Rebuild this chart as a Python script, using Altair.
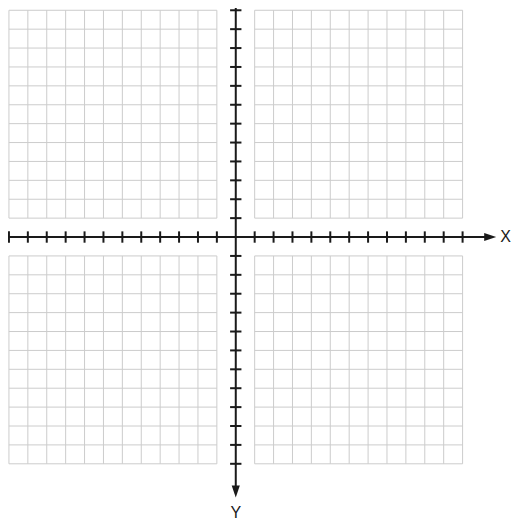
import altair as alt
import pandas as pd

# ---- data ----
grid_units = list(range(1, 13))                      # grid lines in each quadrant
tick_units = [v for v in range(-12, 13) if v != 0]   # axis tick positions
quadrant_signs = [(-1, 1), (1, 1), (-1, -1), (1, -1)]
x_domain = [-12.05, 14.72]
y_domain = [-15.08, 12.12]
axis_end = 13.76          # where axis lines stop (arrow tip)
arrow_center = 13.46      # arrow head centre
x_label = ["X"]
x_label_pos = 14.28
y_label = ["Y"]
y_label_pos = -14.6
tick_half = 0.3

# ---- tables ----
vgrid = pd.DataFrame([
    {"x": sx * v, "y": sy * grid_units[0], "y2": sy * grid_units[-1]}
    for sx, sy in quadrant_signs for v in grid_units
])
hgrid = pd.DataFrame([
    {"y": sy * v, "x": sx * grid_units[0], "x2": sx * grid_units[-1]}
    for sx, sy in quadrant_signs for v in grid_units
])
xticks = pd.DataFrame({"x": tick_units, "y": [-tick_half] * len(tick_units),
                       "y2": [tick_half] * len(tick_units)})
yticks = pd.DataFrame({"y": tick_units, "x": [-tick_half] * len(tick_units),
                       "x2": [tick_half] * len(tick_units)})
xaxis = pd.DataFrame({"x": [x_domain[0]], "x2": [axis_end - 0.2], "y": [0]})
yaxis = pd.DataFrame({"y": [y_domain[1]], "y2": [-(axis_end - 0.2)], "x": [0]})
xarrow = pd.DataFrame({"x": [arrow_center], "y": [0]})
yarrow = pd.DataFrame({"x": [0], "y": [-arrow_center]})
xlab = pd.DataFrame({"x": [x_label_pos], "y": [0], "t": x_label})
ylab = pd.DataFrame({"x": [0], "y": [y_label_pos], "t": y_label})

xs = alt.Scale(domain=x_domain, nice=False, zero=False)
ys = alt.Scale(domain=y_domain, nice=False, zero=False)
X = lambda f="x": alt.X(f"{f}:Q", scale=xs, axis=None)
Y = lambda f="y": alt.Y(f"{f}:Q", scale=ys, axis=None)

grid_color = "#cccccc"
ink = "#1a1a1a"

vg = alt.Chart(vgrid).mark_rule(color=grid_color, strokeWidth=1).encode(
    x=X(), y=Y(), y2="y2:Q")
hg = alt.Chart(hgrid).mark_rule(color=grid_color, strokeWidth=1).encode(
    y=Y(), x=X(), x2="x2:Q")
xa = alt.Chart(xaxis).mark_rule(color=ink, strokeWidth=2).encode(
    x=X(), x2="x2:Q", y=Y())
ya = alt.Chart(yaxis).mark_rule(color=ink, strokeWidth=2).encode(
    y=Y(), y2="y2:Q", x=X())
xt = alt.Chart(xticks).mark_rule(color=ink, strokeWidth=2).encode(
    x=X(), y=Y(), y2="y2:Q")
yt = alt.Chart(yticks).mark_rule(color=ink, strokeWidth=2).encode(
    y=Y(), x=X(), x2="x2:Q")
xar = alt.Chart(xarrow).mark_point(
    shape="M -1 -0.68 L 1 0 L -1 0.68 Z", filled=True, size=144,
    color=ink, opacity=1, strokeWidth=0).encode(x=X(), y=Y())
yar = alt.Chart(yarrow).mark_point(
    shape="M -0.68 -1 L 0 1 L 0.68 -1 Z", filled=True, size=144,
    color=ink, opacity=1, strokeWidth=0).encode(x=X(), y=Y())
xl = alt.Chart(xlab).mark_text(font="Liberation Sans", fontSize=16, color=ink,
                               align="center", baseline="middle").encode(
    x=X(), y=Y(), text="t:N")
yl = alt.Chart(ylab).mark_text(font="Liberation Sans", fontSize=16, color=ink,
                               align="center", baseline="middle").encode(
    x=X(), y=Y(), text="t:N")

chart = alt.layer(vg, hg, xa, ya, xt, yt, xar, yar, xl, yl).properties(
    width=506, height=514, padding=0,
    autosize=alt.AutoSizeParams(type="none"),
    background="white",
).configure_view(stroke=None)

chart.save("out.html", embed_options={"renderer": "svg", "actions": False})
